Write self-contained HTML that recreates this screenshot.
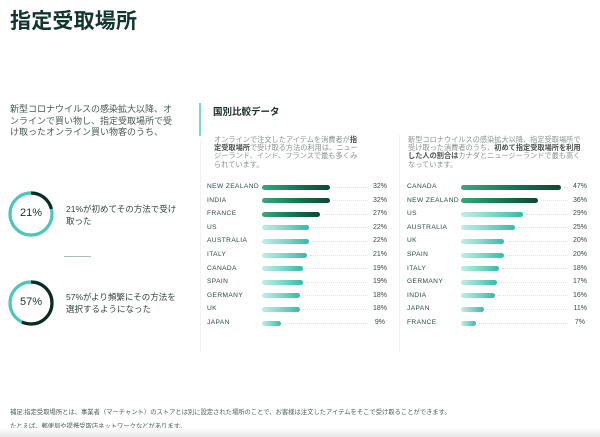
<!DOCTYPE html>
<html><head><meta charset="utf-8">
<style>
*{margin:0;padding:0;box-sizing:border-box}
html,body{width:600px;height:437px;overflow:hidden;background:#fff}
body{position:relative;font-family:"Liberation Sans","Noto Sans CJK JP",sans-serif;color:#1e3a36}
.a{position:absolute;white-space:nowrap}
.title{left:10px;top:5px;font-size:21px;font-weight:bold;color:#12352f;letter-spacing:0.2px}
.intro{left:10px;top:104px;font-size:9px;line-height:11.5px;color:#4a5654}
.dtxt{font-size:8.5px;line-height:12px;color:#34423f;left:66px}
.dnum{font-size:11px;color:#1b332f;width:44px;text-align:center}
.head{left:213px;top:104px;font-size:9.5px;font-weight:bold;color:#1a2e2b}
.acc{left:199px;top:103px;width:2px;height:33px;background:#7fd8cb}
.para{font-size:7.2px;line-height:8.2px;color:#8c9291}
.para b{color:#4a4f4e;font-weight:bold}
.vl{width:1px;background:#f1f2f2}
.chart{position:absolute;width:190px;height:160px}
.r{position:absolute;left:0;width:180px;height:10px}
.l{position:absolute;left:0;top:1px;font-size:6.6px;letter-spacing:0.4px;color:#2b4846;line-height:8px}
.b{position:absolute;top:2.5px;height:5px;border-radius:3px}
.d{background:linear-gradient(90deg,#39a87e,#107049 60%,#0b4a31)}
.t{background:linear-gradient(90deg,#bfeee6,#7fd7c9 50%,#37b9a6)}
.dl{position:absolute;top:4.5px;height:0;border-top:1px dotted #e2e2e2}
.p{position:absolute;right:0;top:1px;font-size:7px;color:#3a4846;line-height:8px}
.foot{left:10px;font-size:6.3px;color:#4d5a58;line-height:8px}
.bot{left:0;top:428px;width:600px;height:9px;background:linear-gradient(180deg,#ffffff,#e6e6e6)}
</style></head><body>

<div class="a title">指定受取場所</div>

<div class="a intro">新型コロナウイルスの感染拡大以降、オ<br>ンラインで買い物し、指定受取場所で受<br>け取ったオンライン買い物客のうち、</div>

<svg class="a" style="left:8px;top:191px" width="46" height="46" viewBox="0 0 46 46">
<circle cx="23" cy="23" r="21" fill="none" stroke="#4cc8b8" stroke-width="3.2"/>
<circle cx="23" cy="23" r="21" fill="none" stroke="#0c2a22" stroke-width="3.2" stroke-dasharray="27.7 200" transform="rotate(-90 23 23)"/>
</svg>
<div class="a dnum" style="left:9px;top:207px">21%</div>
<div class="a dtxt" style="top:203px">21%が初めてその方法で受け<br>取った</div>

<div class="a" style="left:64px;top:256px;width:27px;height:1px;background:#a9c2bf"></div>

<svg class="a" style="left:8px;top:280px" width="46" height="46" viewBox="0 0 46 46">
<circle cx="23" cy="23" r="21" fill="none" stroke="#4cc8b8" stroke-width="3.2"/>
<circle cx="23" cy="23" r="21" fill="none" stroke="#0c2a22" stroke-width="3.2" stroke-dasharray="75.2 200" transform="rotate(-90 23 23)"/>
</svg>
<div class="a dnum" style="left:9px;top:296px">57%</div>
<div class="a dtxt" style="top:291px">57%がより頻繁にその方法を<br>選択するようになった</div>

<div class="a acc"></div>
<div class="a head">国別比較データ</div>
<div class="a vl" style="left:200px;top:140px;height:212px"></div>
<div class="a vl" style="left:399px;top:134px;height:218px"></div>

<div class="a para" style="left:214px;top:136px">オンラインで注文したアイテムを消費者が<b>指</b><br><b>定受取場所</b>で受け取る方法の利用は、ニュー<br>ジーランド、インド、フランスで最も多くみ<br>られています。</div>

<div class="a para" style="left:408px;top:136px">新型コロナウイルスの感染拡大以降、指定受取場所で<br>受け取った消費者のうち、<b>初めて指定受取場所を利用</b><br><b>した人の割合は</b>カナダとニュージーランドで最も高く<br>なっています。</div>

<!-- Chart 1 -->
<div class="chart" style="left:207px;top:0">
<div class="r" style="top:182px"><span class="l">NEW ZEALAND</span><i class="b d" style="left:55px;width:68px"></i><i class="dl" style="left:126px;width:35px"></i><span class="p">32%</span></div>
<div class="r" style="top:195.6px"><span class="l">INDIA</span><i class="b d" style="left:55px;width:68px"></i><i class="dl" style="left:126px;width:35px"></i><span class="p">32%</span></div>
<div class="r" style="top:209.2px"><span class="l">FRANCE</span><i class="b d" style="left:55px;width:57.5px"></i><i class="dl" style="left:116px;width:45px"></i><span class="p">27%</span></div>
<div class="r" style="top:222.8px"><span class="l">US</span><i class="b t" style="left:55px;width:47px"></i><i class="dl" style="left:105px;width:56px"></i><span class="p">22%</span></div>
<div class="r" style="top:236.4px"><span class="l">AUSTRALIA</span><i class="b t" style="left:55px;width:47px"></i><i class="dl" style="left:105px;width:56px"></i><span class="p">22%</span></div>
<div class="r" style="top:250px"><span class="l">ITALY</span><i class="b t" style="left:55px;width:45px"></i><i class="dl" style="left:103px;width:58px"></i><span class="p">21%</span></div>
<div class="r" style="top:263.6px"><span class="l">CANADA</span><i class="b t" style="left:55px;width:40.5px"></i><i class="dl" style="left:99px;width:62px"></i><span class="p">19%</span></div>
<div class="r" style="top:277.2px"><span class="l">SPAIN</span><i class="b t" style="left:55px;width:40.5px"></i><i class="dl" style="left:99px;width:62px"></i><span class="p">19%</span></div>
<div class="r" style="top:290.8px"><span class="l">GERMANY</span><i class="b t" style="left:55px;width:38px"></i><i class="dl" style="left:96px;width:65px"></i><span class="p">18%</span></div>
<div class="r" style="top:304.4px"><span class="l">UK</span><i class="b t" style="left:55px;width:38px"></i><i class="dl" style="left:96px;width:65px"></i><span class="p">18%</span></div>
<div class="r" style="top:318px"><span class="l">JAPAN</span><i class="b t" style="left:55px;width:19px"></i><i class="dl" style="left:77px;width:84px"></i><span class="p" style="right:2px">9%</span></div>
</div>

<!-- Chart 2 -->
<div class="chart" style="left:407px;top:0">
<div class="r" style="top:182px"><span class="l">CANADA</span><i class="b d" style="left:54px;width:100px"></i><i class="dl" style="left:157px;width:4px"></i><span class="p">47%</span></div>
<div class="r" style="top:195.6px"><span class="l">NEW ZEALAND</span><i class="b d" style="left:54px;width:77px"></i><i class="dl" style="left:134px;width:27px"></i><span class="p">36%</span></div>
<div class="r" style="top:209.2px"><span class="l">US</span><i class="b t" style="left:54px;width:62px"></i><i class="dl" style="left:119px;width:42px"></i><span class="p">29%</span></div>
<div class="r" style="top:222.8px"><span class="l">AUSTRALIA</span><i class="b t" style="left:54px;width:54px"></i><i class="dl" style="left:111px;width:50px"></i><span class="p">25%</span></div>
<div class="r" style="top:236.4px"><span class="l">UK</span><i class="b t" style="left:54px;width:43px"></i><i class="dl" style="left:100px;width:61px"></i><span class="p">20%</span></div>
<div class="r" style="top:250px"><span class="l">SPAIN</span><i class="b t" style="left:54px;width:43px"></i><i class="dl" style="left:100px;width:61px"></i><span class="p">20%</span></div>
<div class="r" style="top:263.6px"><span class="l">ITALY</span><i class="b t" style="left:54px;width:38px"></i><i class="dl" style="left:95px;width:66px"></i><span class="p">18%</span></div>
<div class="r" style="top:277.2px"><span class="l">GERMANY</span><i class="b t" style="left:54px;width:36px"></i><i class="dl" style="left:93px;width:68px"></i><span class="p">17%</span></div>
<div class="r" style="top:290.8px"><span class="l">INDIA</span><i class="b t" style="left:54px;width:34px"></i><i class="dl" style="left:91px;width:70px"></i><span class="p">16%</span></div>
<div class="r" style="top:304.4px"><span class="l">JAPAN</span><i class="b t" style="left:54px;width:23px"></i><i class="dl" style="left:80px;width:81px"></i><span class="p">11%</span></div>
<div class="r" style="top:318px"><span class="l">FRANCE</span><i class="b t" style="left:54px;width:15px"></i><i class="dl" style="left:72px;width:89px"></i><span class="p" style="right:2px">7%</span></div>
</div>

<div class="a foot" style="top:409px">補足:指定受取場所とは、事業者（マーチャント）のストアとは別に設定された場所のことで、お客様は注文したアイテムをそこで受け取ることができます。</div>
<div class="a foot" style="top:423px">たとえば、郵便局や提携受取店ネットワークなどがあります。</div>

<div class="a bot"></div>
</body></html>
